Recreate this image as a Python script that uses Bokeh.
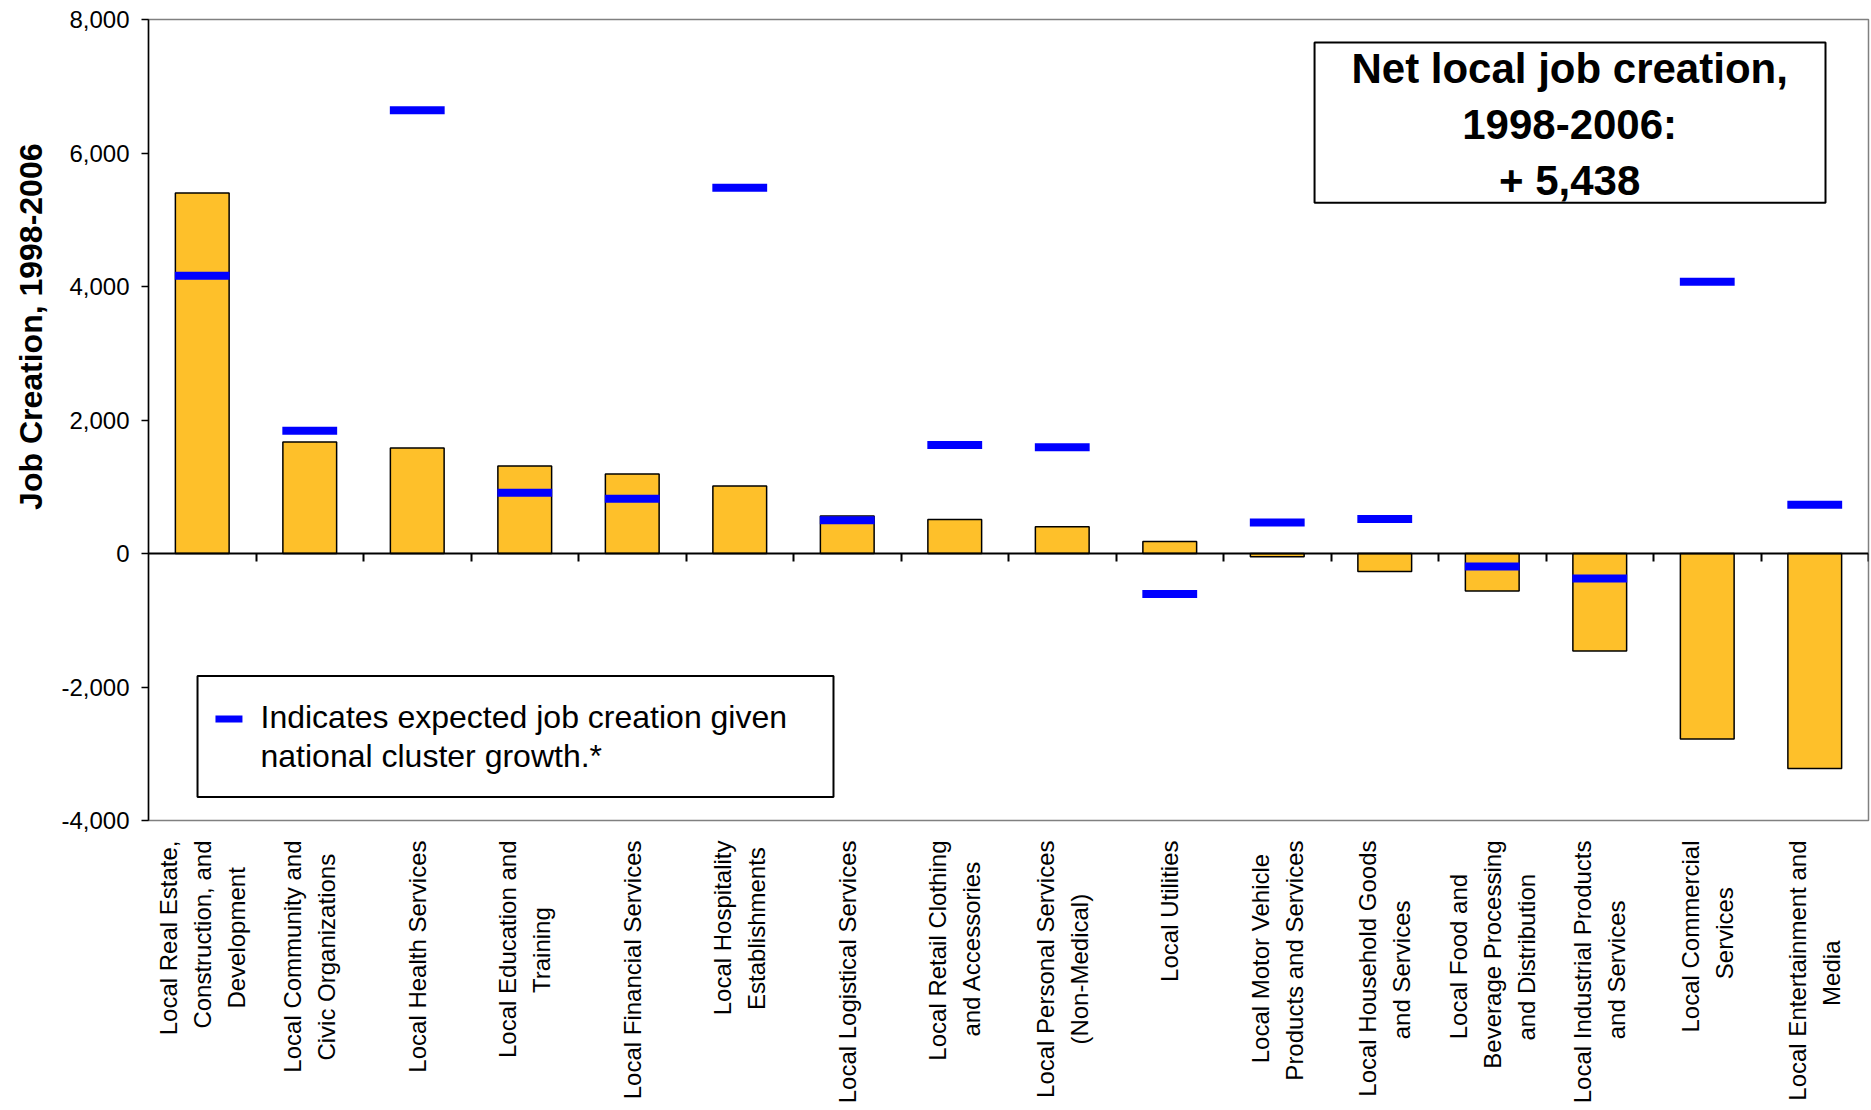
import math
from bokeh.plotting import figure
from bokeh.models import (Range1d, LinearAxis, FixedTicker, Title,
                          NumeralTickFormatter, BoxAnnotation, Label, ColumnDataSource)
from bokeh.embed import file_html
from bokeh.resources import INLINE

categories = [
    "Local Real Estate,\nConstruction, and\nDevelopment",
    "Local Community and\nCivic Organizations",
    "Local Health Services",
    "Local Education and\nTraining",
    "Local Financial Services",
    "Local Hospitality\nEstablishments",
    "Local Logistical Services",
    "Local Retail Clothing\nand Accessories",
    "Local Personal Services\n(Non-Medical)",
    "Local Utilities",
    "Local Motor Vehicle\nProducts and Services",
    "Local Household Goods\nand Services",
    "Local Food and\nBeverage Processing\nand Distribution",
    "Local Industrial Products\nand Services",
    "Local Commercial\nServices",
    "Local Entertainment and\nMedia",
]
actual_jobs = [5400, 1670, 1580, 1310, 1190, 1010, 560, 510, 400, 180,
               -50, -270, -560, -1460, -2780, -3220]
expected_jobs = [4160, 1840, 6640, 910, 820, 5480, 500, 1625, 1590, -607,
                 464, 518, -196, -375, 4070, 732]
y_ticks = [-4000, -2000, 0, 2000, 4000, 6000, 8000]
legend_text = "Indicates expected job creation given\nnational cluster growth.*"
note_text = "Net local job creation,\n1998-2006:\n+ 5,438"
y_title = "Job Creation, 1998-2006"

FONT = "Liberation Sans"
BAR = "#FEC02A"
BLUE = "#0000FF"

# Arial / Liberation Sans advance widths (1/1000 em), used to centre the lines
# of multi-line tick labels (Bokeh aligns rotated label lines at their ends).
_W = dict(zip("abcdefghijklmnopqrstuvwxyz",
              [556, 556, 500, 556, 556, 278, 556, 556, 222, 222, 500, 222, 833,
               556, 556, 556, 556, 333, 500, 278, 556, 500, 722, 500, 500, 500]))
_W.update(zip("ABCDEFGHIJKLMNOPQRSTUVWXYZ",
              [667, 667, 722, 722, 667, 611, 778, 722, 278, 500, 667, 556, 833,
               722, 778, 667, 778, 722, 667, 611, 722, 667, 944, 667, 667, 611]))
_W.update({" ": 278, ",": 278, ".": 278, "-": 333, "(": 333, ")": 333, "*": 389})
NBSP = "\u00a0"


def centred(label):
    lines = label.split("\n")
    widths = [sum(_W.get(ch, 556) for ch in ln) for ln in lines]
    wmax = max(widths)
    return "\n".join(ln + NBSP * round((wmax - w) / 2 / 278)
                     for ln, w in zip(lines, widths))


n = len(categories)
centers = [i + 0.5 for i in range(n)]
boundaries = [float(i) for i in range(1, n + 1)]

src = ColumnDataSource(dict(x=centers, actual=actual_jobs, expected=expected_jobs))

p = figure(x_range=Range1d(0, n), y_range=Range1d(y_ticks[0], y_ticks[-1]),
           width=1871, height=1110, output_backend="svg", toolbar_location=None,
           min_border_left=148, min_border_right=3, min_border_top=19,
           min_border_bottom=290)
p.xgrid.visible = False
p.ygrid.visible = False
p.outline_line_color = "#808080"
p.outline_line_width = 1.5
p.background_fill_color = "white"
p.border_fill_color = "white"

xa = p.xaxis[0]
xa.ticker = FixedTicker(ticks=centers)
xa.major_label_overrides = {c: centred(lab) for c, lab in zip(centers, categories)}
xa.axis_line_color = None
xa.major_tick_line_color = None
xa.minor_tick_line_color = None
xa.major_tick_out = 0
xa.major_tick_in = 0
xa.major_label_orientation = math.pi / 2
xa.major_label_standoff = 20
xa.major_label_text_font = FONT
xa.major_label_text_font_size = "24px"
xa.major_label_text_line_height = 1.25
xa.major_label_text_color = "black"

ya = p.yaxis[0]
ya.ticker = FixedTicker(ticks=y_ticks)
ya.formatter = NumeralTickFormatter(format="0,0")
ya.axis_line_color = "black"
ya.axis_line_width = 1.5
ya.major_tick_line_color = "black"
ya.major_tick_line_width = 1.5
ya.major_tick_out = 7
ya.major_tick_in = 0
ya.minor_tick_line_color = None
ya.major_label_standoff = 12
ya.major_label_text_font = FONT
ya.major_label_text_font_size = "24px"
ya.major_label_text_color = "black"

# zero line with category-boundary ticks (minor ticks only, no labels)
zaxis = LinearAxis(fixed_location=0, ticker=FixedTicker(ticks=[], minor_ticks=boundaries),
                   major_tick_line_color=None, axis_line_width=2,
                   minor_tick_out=8, minor_tick_in=0, minor_tick_line_width=2,
                   minor_tick_line_color="black", major_label_standoff=0)
p.add_layout(zaxis, "below")

p.add_layout(Title(text=y_title, align="right", offset=124, standoff=20, text_font=FONT,
                   text_font_size="32px", text_font_style="bold",
                   text_color="black"), "left")

p.vbar(x="x", top="actual", bottom=0, width=0.5, source=src,
       fill_color=BAR, line_color="black", line_width=1.5)
p.rect(x="x", y="expected", width=0.51, height=8, height_units="screen",
       source=src, fill_color=BLUE, line_color=None)

# legend box
p.add_layout(BoxAnnotation(left=0.456, right=6.372, top=-1835, bottom=-3649,
                           fill_color="white", fill_alpha=1,
                           line_color="black", line_alpha=1, line_width=2))
p.add_layout(BoxAnnotation(left=0.623, right=0.874, top=-2428, bottom=-2532,
                           fill_color=BLUE, fill_alpha=1, line_color=None))
p.add_layout(Label(x=1.042, y=-2740, text=legend_text,
                   text_font=FONT, text_font_size="32px", text_line_height=1.1,
                   text_align="left", text_baseline="middle", text_color="black"))

# note box
p.add_layout(BoxAnnotation(left=10.847, right=15.6, top=7655, bottom=5256,
                           fill_color="white", fill_alpha=1,
                           line_color="black", line_alpha=1, line_width=2))
p.add_layout(Label(x=13.22, y=6426, text=note_text,
                   text_font=FONT, text_font_size="42px", text_font_style="bold",
                   text_line_height=1.2, text_align="center", text_baseline="middle",
                   text_color="black"))

open("out.html", "w").write(file_html(p, INLINE))
